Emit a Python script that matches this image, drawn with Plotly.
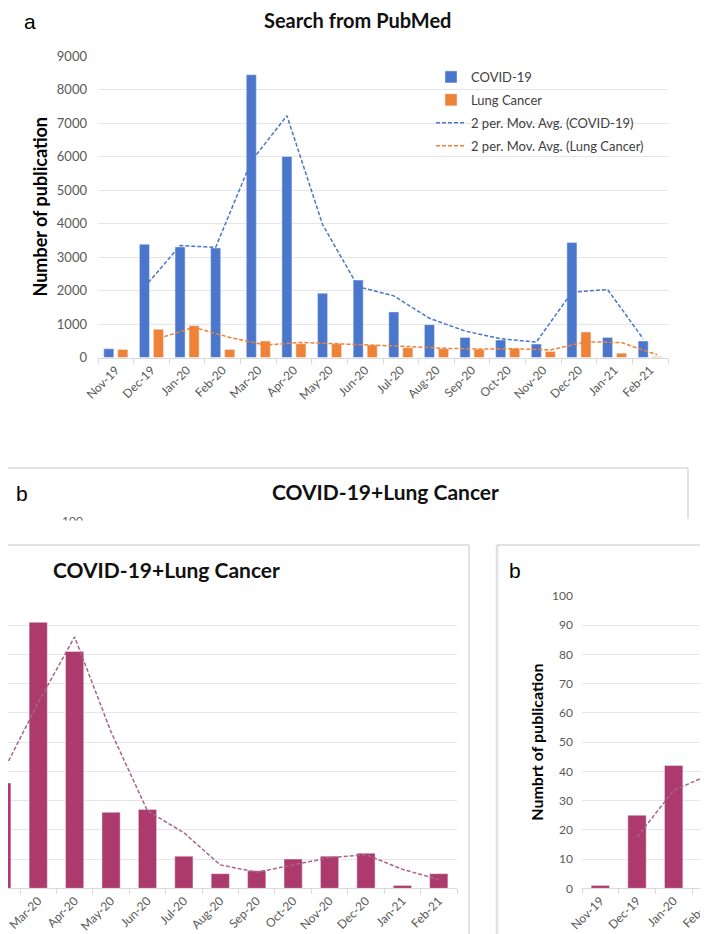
import plotly.graph_objects as go

# page is photographed with the browser's default 8px body margin,
# so the figure starts at (8, 8); it is made wider than the window so the
# right-hand panel runs off the edge as in the reference
OFF = 8
FW, FH = 760, 926

months = ["Nov-19", "Dec-19", "Jan-20", "Feb-20", "Mar-20", "Apr-20", "May-20", "Jun-20",
          "Jul-20", "Aug-20", "Sep-20", "Oct-20", "Nov-20", "Dec-20", "Jan-21", "Feb-21"]
covid = [260, 3380, 3300, 3270, 8440, 6000, 1920, 2310, 1360, 980, 600, 520, 400, 3430, 600, 490]
lung = [240, 840, 950, 240, 490, 410, 410, 370, 290, 260, 250, 270, 180, 760, 130, 25]
covid_ma = [None, 2100, 3340, 3290, 5860, 7220, 3970, 2110, 1840, 1170, 790, 560, 460, 1950, 2030, 560]
lung_ma = [None, 570, 900, 600, 370, 450, 410, 390, 330, 275, 255, 260, 225, 470, 445, 80]
combo = [1, 25, 42, 36, 91, 81, 26, 27, 11, 5, 6, 10, 11, 12, 1, 5]
combo_ma = [None, 17.5, 33.5, 39, 63.5, 86, 53.5, 26.5, 19, 8, 5.5, 8, 10.5, 11.5, 6.5, 3]


def px(x):
    return (x - OFF) / FW


def py(y):
    return 1 - (y - OFF) / FH


BLUE = "#4a76cb"
ORANGE = "#ef8236"
MAGENTA = "#ad3a6c"
MA_PINK = "#a8668a"
GRID = "#e6e6e6"
AX = "#d9d9d9"
TICK = "#595959"
FONT = "Lato"

fig = go.Figure()

# Panel a
fig.add_trace(go.Bar(x=months, y=covid, name="COVID-19", marker_color=BLUE,
                     offsetgroup="c", legendgroup="g1", xaxis="x", yaxis="y"))
fig.add_trace(go.Bar(x=months, y=lung, name="Lung Cancer", marker_color=ORANGE,
                     offsetgroup="l", legendgroup="g2", xaxis="x", yaxis="y"))
fig.add_trace(go.Scatter(x=months, y=covid_ma, name="2 per. Mov. Avg. (COVID-19)", mode="lines",
                         line=dict(color=BLUE, width=1.5, dash="4px,2px"),
                         offsetgroup="c", legendgroup="g3", xaxis="x", yaxis="y"))
fig.add_trace(go.Scatter(x=months, y=lung_ma, name="2 per. Mov. Avg. (Lung Cancer)", mode="lines",
                         line=dict(color=ORANGE, width=1.5, dash="4px,2px"),
                         offsetgroup="l", legendgroup="g4", xaxis="x", yaxis="y"))

# Lower-left panel (shifted, partly off-page)
fig.add_trace(go.Bar(x=months, y=combo, marker_color=MAGENTA, width=0.5, showlegend=False,
                     xaxis="x2", yaxis="y2"))
fig.add_trace(go.Scatter(x=months, y=combo_ma, mode="lines", showlegend=False,
                         line=dict(color=MA_PINK, width=1.5, dash="4px,2px"),
                         xaxis="x2", yaxis="y2"))

# Lower-right panel
fig.add_trace(go.Bar(x=months, y=combo, marker_color=MAGENTA, width=0.5, showlegend=False,
                     xaxis="x3", yaxis="y3"))
fig.add_trace(go.Scatter(x=months, y=combo_ma, mode="lines", showlegend=False,
                         line=dict(color=MA_PINK, width=1.5, dash="4px,2px"),
                         xaxis="x3", yaxis="y3"))

# invisible trace carrying the strip's cut-off axis
fig.add_trace(go.Scatter(x=[0], y=[0], mode="markers", marker=dict(opacity=0), showlegend=False,
                         hoverinfo="skip", xaxis="x4", yaxis="y4"))

xcommon = dict(type="category", categoryorder="array", categoryarray=months,
               showgrid=False, showline=True, linecolor=AX, linewidth=1,
               ticks="outside", tickson="boundaries", ticklen=5, tickcolor=AX,
               tickangle=-45, tickfont=dict(family=FONT, size=12, color=TICK), zeroline=False,
               automargin=False)

lower_dom = [py(888.3), py(596)]
right_edge = OFF + FW

fig.update_layout(
    width=FW, height=FH,
    margin=dict(l=0, r=0, t=0, b=0, pad=0, autoexpand=False),
    paper_bgcolor="white", plot_bgcolor="white",
    barmode="group", bargap=0.213, bargroupgap=0.286,
    scattermode="group", scattergap=0.213,
    showlegend=True,
    legend=dict(x=px(431), y=py(62), xanchor="left", yanchor="top",
                bgcolor="rgba(0,0,0,0)", font=dict(family=FONT, size=13, color="#404040"),
                tracegroupgap=3),
    xaxis=dict(domain=[px(98), px(668)], anchor="y", **xcommon),
    yaxis=dict(domain=[py(357.5), py(56)], anchor="x", range=[0, 9000], dtick=1000,
               gridcolor=GRID, showline=False, zeroline=False, automargin=False,
               ticklabelstandoff=10,
               tickfont=dict(family=FONT, size=13, color=TICK),
               title=dict(text="<b>Number of publication</b>",
                          font=dict(family=FONT, size=18, color="#000000"), standoff=4)),
    xaxis2=dict(domain=[0, px(457)], anchor="y2", range=[3.5 + (OFF - 20) / 36.4, 15.5], **xcommon),
    yaxis2=dict(domain=lower_dom, anchor="x2", range=[0, 100], dtick=10, automargin=False,
                gridcolor=GRID, showline=False, zeroline=False, showticklabels=False),
    xaxis3=dict(domain=[px(582), 1], anchor="y3",
                range=[-0.5, -0.5 + (right_edge - 582) / 36.67], **xcommon),
    yaxis3=dict(domain=lower_dom, anchor="x3", range=[0, 100], dtick=10, automargin=False,
                gridcolor=GRID, showline=False, zeroline=False, ticklabelstandoff=8,
                tickfont=dict(family=FONT, size=12, color=TICK),
                title=dict(text="<b>Numbrt of publication</b>",
                           font=dict(family=FONT, size=16, color="#000000"), standoff=4)),
    xaxis4=dict(domain=[px(84), px(680)], anchor="y4", visible=False, range=[0, 1], automargin=False),
    yaxis4=dict(domain=[py(530), py(521)], anchor="x4", range=[0, 100], tickvals=[100],
                showgrid=False, showline=False, zeroline=False, automargin=False,
                tickfont=dict(family=FONT, size=12, color=TICK)),
)

line_style = dict(color=AX, width=1.5)
shapes = [
    # strip box (top, left, right)
    dict(type="line", xref="paper", yref="paper", x0=px(7), x1=px(688), y0=py(468), y1=py(468), line=line_style),
    dict(type="line", xref="paper", yref="paper", x0=px(7), x1=px(7), y0=py(468), y1=py(519), line=line_style),
    dict(type="line", xref="paper", yref="paper", x0=px(688), x1=px(688), y0=py(468), y1=py(519), line=line_style),
    # lower-left box
    dict(type="line", xref="paper", yref="paper", x0=0, x1=px(469), y0=py(545), y1=py(545), line=line_style),
    dict(type="line", xref="paper", yref="paper", x0=px(469), x1=px(469), y0=py(545), y1=0, line=line_style),
    # lower-right box
    dict(type="line", xref="paper", yref="paper", x0=px(497), x1=1, y0=py(545), y1=py(545), line=line_style),
    dict(type="line", xref="paper", yref="paper", x0=px(497), x1=px(497), y0=py(545), y1=0,
         line=dict(color="#e0e0e0", width=2.5)),
    # white cover cutting the strip
    dict(type="rect", xref="paper", yref="paper", x0=-0.05, x1=1.05, y0=py(543), y1=py(520.5),
         fillcolor="white", line=dict(width=0), layer="above"),
]
fig.update_layout(shapes=shapes)

ann = [
    dict(text="a", x=px(30), y=py(22), font=dict(family="Liberation Sans", size=21, color="#000")),
    dict(text="<b>Search from PubMed</b>", x=px(357), y=py(20), font=dict(family=FONT, size=20, color="#111")),
    dict(text="b", x=px(22), y=py(493), font=dict(family="Liberation Sans", size=21, color="#000")),
    dict(text="<b>COVID-19+Lung Cancer</b>", x=px(385), y=py(492), font=dict(family=FONT, size=21, color="#111")),
    dict(text="<b>COVID-19+Lung Cancer</b>", x=px(166), y=py(569), font=dict(family=FONT, size=21, color="#111")),
    dict(text="b", x=px(515), y=py(570), font=dict(family="Liberation Sans", size=21, color="#000")),
]
for a in ann:
    a.update(xref="paper", yref="paper", showarrow=False, xanchor="center", yanchor="middle")
fig.update_layout(annotations=ann)

fig.write_html("out.html")
